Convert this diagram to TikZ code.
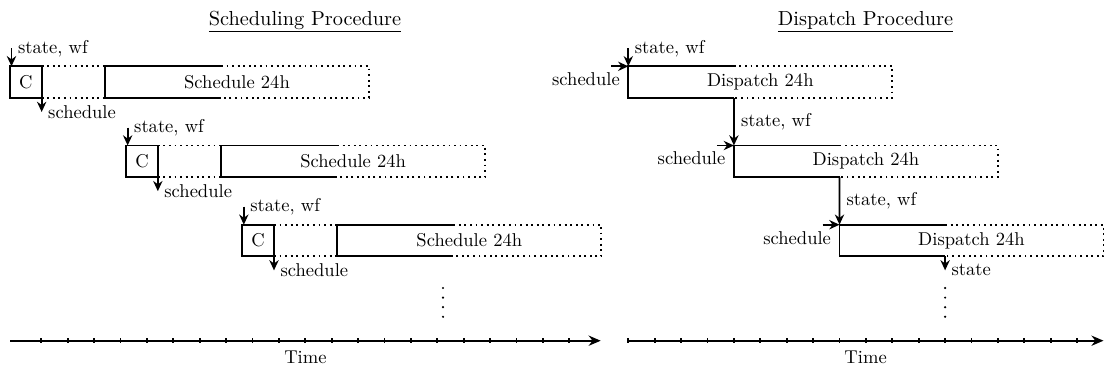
\documentclass[tikz,border=0pt]{standalone}
\usetikzlibrary{arrows.meta,calc}
\begin{document}
\begin{tikzpicture}[x=0.5389pt,y=-0.5389pt,
  cbox/.style={draw,line width=1pt,outer sep=0pt,inner sep=0pt,minimum width=0.6cm,minimum height=0.6cm},
  taskbox/.style={outer sep=0pt,inner sep=0pt,minimum width=5cm,minimum height=0.6cm},
  solidedge/.style={line width=1pt},
  dotedge/.style={line width=1pt,dotted},
  flow/.style={line width=1pt,-{Stealth[length=5.5pt,width=5pt]}},
  axisline/.style={line width=1pt,-{Stealth[length=6.5pt,width=5.5pt]}},
  tickmark/.style={line width=1pt},
  ellip/.style={line width=1.3pt,line cap=round,dash pattern=on 0pt off 5.17pt},
  lbl/.style={inner sep=3.33pt},
  titletext/.style={anchor=base,font=\fontsize{10.95}{13.6}\selectfont}
]
\useasboundingbox (0,0) rectangle (1105,369);

% titles
\node[titletext] (title1) at (305,25) {\underline{Scheduling Procedure}};
\node[titletext] (title2) at (865.5,25) {\underline{Dispatch Procedure}};

% scheduling rows
\foreach \r in {0,1,2} {
  \pgfmathsetmacro\ox{10+116.16*\r}
  \pgfmathsetmacro\oy{66.3+79.2*\r}
  \node[cbox,anchor=north west] (c\r) at (\ox,\oy) {C};
  \node[taskbox,anchor=north west] (s\r) at (\ox+95,\oy) {Schedule 24h};
  \draw[dotedge] (c\r.north east) -- (s\r.north west);
  \draw[dotedge] (c\r.south east) -- (s\r.south west);
  \draw[solidedge] ($(s\r.north west)+(116,0)$) -- (s\r.north west) -- (s\r.south west) -- ($(s\r.south west)+(116,0)$);
  \draw[dotedge] ($(s\r.north west)+(116,0)$) -- (s\r.north east) -- (s\r.south east) -- ($(s\r.south west)+(116,0)$);
  \coordinate (ie\r) at ($(c\r.north west)+(1.5,0)$);
  \coordinate (ia\r) at ($(ie\r)+(0,-18)$);
  \draw[flow] (ia\r) -- (ie\r);
  \node[lbl,anchor=west] (il\r) at (ia\r) {state, wf};
  \coordinate (oa\r) at ($(c\r.south east)+(0,14)$);
  \draw[flow] (c\r.south east) -- (oa\r);
  \node[lbl,anchor=west] (ol\r) at (oa\r) {schedule};
}

% dispatch rows
\foreach \r in {0,1,2} {
  \pgfmathsetmacro\dx{628.3+105.6*\r}
  \pgfmathsetmacro\oy{66.3+79.2*\r}
  \node[taskbox,anchor=north west] (d\r) at (\dx,\oy) {Dispatch 24h};
  \coordinate (dn\r) at ($(d\r.north west)+(105.6,0)$);
  \coordinate (de\r) at ($(d\r.south west)+(105.6,0)$);
  \draw[solidedge] (dn\r) -- (d\r.north west) -- (d\r.south west) -- (de\r);
  \draw[dotedge] (dn\r) -- (d\r.north east) -- (d\r.south east) -- (de\r);
  \coordinate (hs\r) at ($(d\r.north west)+(-17,0)$);
  \draw[flow] (hs\r) -- (d\r.north west);
  \node[lbl,anchor=north east] (sl\r) at ($(d\r.north west)+(-2,0)$) {schedule};
}
\coordinate (top0) at ($(d0.north west)+(0,-18)$);
\draw[flow] (top0) -- (d0.north west);
\node[lbl,anchor=west] (tl0) at (top0) {state, wf};
\draw[flow] (de0) -- (d1.north west) node[lbl,midway,anchor=west] (v1) {state, wf};
\draw[flow] (de1) -- (d2.north west) node[lbl,midway,anchor=west] (v2) {state, wf};
\coordinate (fe) at ($(de2)+(0,14)$);
\draw[flow] (de2) -- (fe);
\node[lbl,anchor=west] (fl) at (fe) {state};

% ellipses
\draw[ellip] (443,288) -- (443,318);
\draw[ellip] (945.1,288) -- (945.1,318);

% time axes
\coordinate (la) at (10,340.7);
\coordinate (lb) at (600.7,340.7);
\draw[axisline] (la) -- (lb);
\foreach \k in {0,...,20} {
  \draw[tickmark] (41.3+26.4*\k,338) -- (41.3+26.4*\k,343.4);
}
\node[anchor=base] (time1) at (305.4,363.5) {Time};

\coordinate (ra) at (627.7,340.7);
\coordinate (rb) at (1103.5,340.7);
\draw[axisline] (ra) -- (rb);
\foreach \k in {0,...,17} {
  \draw[tickmark] (628.3+26.4*\k,338) -- (628.3+26.4*\k,343.4);
}
\node[anchor=base] (time2) at (865.6,363.5) {Time};
\end{tikzpicture}
\end{document}
